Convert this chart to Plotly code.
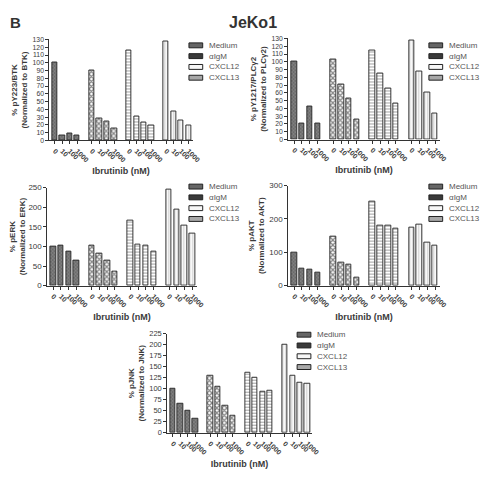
import plotly.graph_objects as go

# page body has an 8px default margin, so the figure is drawn 8px in
OFF = 8
W, H = 490 - OFF, 477 - OFF

groups = ["Medium", "αIgM", "CXCL12", "CXCL13"]
doses = ["0", "10", "100", "1000"]

# values per panel: one list per stimulus group (doses 0, 10, 100, 1000 nM)
pY223_BTK = [[100, 6, 9, 6], [90, 28, 24, 16], [116, 31, 23, 19], [128, 37, 26, 19]]
pY1217_PLCg2 = [[100, 21, 43, 20], [103, 71, 53, 26], [114, 85, 66, 46], [127, 88, 61, 33]]
pERK = [[100, 102, 88, 64], [101, 82, 64, 35], [167, 105, 101, 87], [246, 193, 153, 132]]
pAKT = [[100, 50, 48, 38], [146, 68, 62, 24], [253, 179, 179, 171], [174, 184, 130, 121]]
pJNK = [[100, 65, 51, 32], [130, 105, 61, 38], [136, 125, 93, 95], [201, 129, 113, 111]]

ytitles = [
    "% pY223/BTK<br>(Normalized to BTK)",
    "% pY1217/PLCγ2<br>(Normalized to PLCγ2)",
    "% pERK<br>(Normalized to ERK)",
    "% pAKT<br>(Normalized to AKT)",
    "% pJNK<br>(Normalized to JNK)",
]
ymax = [130, 130, 250, 300, 225]
ydtick = [10, 10, 50, 100, 25]
yfont = [6.8, 6.8, 8, 8, 7.5]
xtitle = "Ibrutinib (nM)"

panels_data = [pY223_BTK, pY1217_PLCg2, pERK, pAKT, pJNK]

# layout geometry in window pixels: x0, x1, ytop, ybot, legend text x, legend first row y
geom = [
    (50, 196, 36, 139, 210, 42),
    (293, 447, 35, 138, 454, 42),
    (48, 200, 187, 287, 210, 186),
    (293, 447, 185, 287, 454, 186),
    (170, 317, 336, 437, 320, 337),
]

def px(x):
    return (x - OFF) / W

def py(y):
    return 1 - (y - OFF) / H

styles = [
    dict(color="#666666", pattern=dict(shape="x", fgcolor="#464646", bgcolor="#808080", size=2.5, solidity=0.45)),
    dict(color="#222", pattern=dict(shape="x", fgcolor="#111111", bgcolor="#ffffff", size=3.5, solidity=0.6)),
    dict(color="#fff", pattern=dict(shape="-", fgcolor="#444444", bgcolor="#ffffff", size=3, solidity=0.35)),
    dict(color="#eee", pattern=dict(shape="|", fgcolor="#a0a0a0", bgcolor="#f8f8f8", size=3, solidity=0.3)),
]
swatch_fill = ["#666666", "#3a3a3a", "#f6f6f6", "#a8a8a8"]

fig = go.Figure()
font_family = "Liberation Sans, Arial, sans-serif"
txt = "#3a3a3a"

tickvals = []
ticktext = []
for g in range(4):
    for d in range(4):
        tickvals.append(g * 5 + d)
        ticktext.append(doses[d])

shapes = []
annotations = []

for p, data in enumerate(panels_data):
    n = p + 1
    xa = "x" if n == 1 else f"x{n}"
    ya = "y" if n == 1 else f"y{n}"
    for g, vals in enumerate(data):
        fig.add_trace(go.Bar(
            x=[g * 5 + d for d in range(4)],
            y=vals,
            name=groups[g],
            xaxis=xa, yaxis=ya,
            width=0.7,
            marker=dict(color=styles[g]["color"], pattern=styles[g]["pattern"],
                        line=dict(color="#222", width=0.9)),
            showlegend=False,
        ))
    x0, x1, yt, yb, lx, ly = geom[p]
    axis_common = dict(showline=True, linecolor="#333", linewidth=1, ticks="outside",
                       ticklen=3, tickcolor="#333", tickwidth=1, showgrid=False, zeroline=False)
    fig.layout[f"xaxis{'' if n == 1 else n}"] = dict(
        domain=[px(x0), px(x1)], anchor=ya, range=[-0.75, 18.6],
        tickmode="array", tickvals=tickvals, ticktext=ticktext, tickangle=45,
        tickfont=dict(size=7, color=txt, family=font_family, weight="bold"),
        title=dict(text=xtitle, font=dict(size=9, color=txt, family=font_family, weight="bold"), standoff=5),
        **axis_common)
    fig.layout[f"yaxis{'' if n == 1 else n}"] = dict(
        domain=[py(yb), py(yt)], anchor=xa, range=[0, ymax[p]], dtick=ydtick[p],
        tickfont=dict(size=yfont[p], color=txt, family=font_family),
        title=dict(text=ytitles[p], font=dict(size=8, color=txt, family=font_family, weight="bold"), standoff=3),
        **axis_common)
    # legend
    for g in range(4):
        cy = ly + g * 11
        shapes.append(dict(type="rect", xref="paper", yref="paper",
                           x0=px(lx - 18), x1=px(lx - 4), y0=py(cy + 2.5), y1=py(cy - 2.5),
                           fillcolor=swatch_fill[g], line=dict(color="#222", width=1)))
        annotations.append(dict(text=groups[g], xref="paper", yref="paper", x=px(lx), y=py(cy),
                                xanchor="left", yanchor="middle", showarrow=False,
                                font=dict(size=8, color="#555", family=font_family)))

annotations.append(dict(text="<b>B</b>", xref="paper", yref="paper", x=px(8), y=py(8),
                        xanchor="left", yanchor="top", showarrow=False,
                        font=dict(size=15, color="#333", family=font_family)))
annotations.append(dict(text="<b>JeKo1</b>", xref="paper", yref="paper", x=px(257), y=py(8),
                        xanchor="center", yanchor="top", showarrow=False,
                        font=dict(size=16, color="#333", family=font_family)))

fig.update_layout(
    width=W, height=H, margin=dict(l=0, r=0, t=0, b=0),
    paper_bgcolor="white", plot_bgcolor="white",
    bargap=0, shapes=shapes, annotations=annotations, showlegend=False,
    font=dict(family=font_family),
)

fig.write_html("out.html")
